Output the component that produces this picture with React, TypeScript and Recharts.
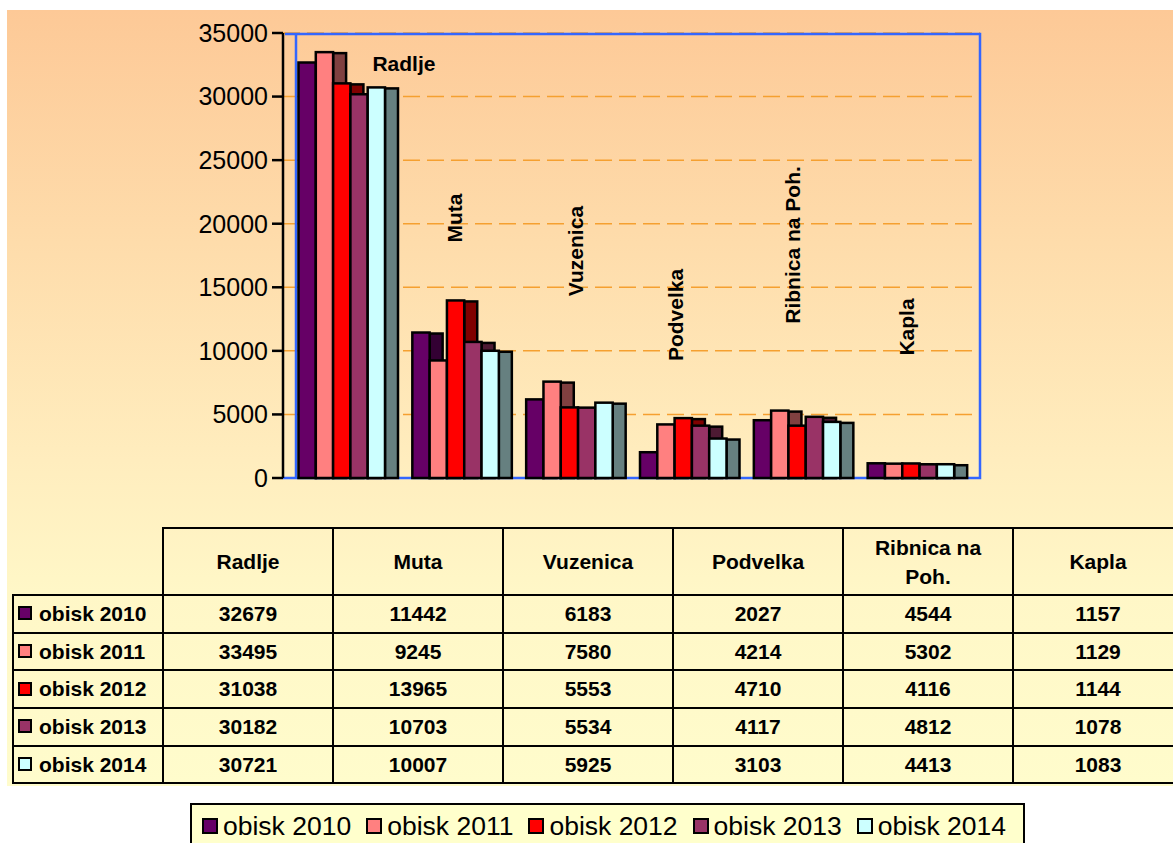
import {
  Bar,
  BarChart,
  CartesianGrid,
  Legend,
  ReferenceArea,
  ReferenceDot,
  XAxis,
  YAxis,
} from "recharts";

const CATEGORIES = ["Radlje", "Muta", "Vuzenica", "Podvelka", "Ribnica na Poh.", "Kapla"];
const OBISK_2010 = [32679, 11442, 6183, 2027, 4544, 1157];
const OBISK_2011 = [33495, 9245, 7580, 4214, 5302, 1129];
const OBISK_2012 = [31038, 13965, 5553, 4710, 4116, 1144];
const OBISK_2013 = [30182, 10703, 5534, 4117, 4812, 1078];
const OBISK_2014 = [30721, 10007, 5925, 3103, 4413, 1083];
const Y_TICKS = [0, 5000, 10000, 15000, 20000, 25000, 30000, 35000];

// Excel paleta: sprednja ploskev + temnejša stranska ploskev (3D stolpci)
const SERIES = [
  { key: "o2010", name: "obisk 2010", values: OBISK_2010, color: "#660066", side: "#330033" },
  { key: "o2011", name: "obisk 2011", values: OBISK_2011, color: "#FF8080", side: "#804040" },
  { key: "o2012", name: "obisk 2012", values: OBISK_2012, color: "#FF0000", side: "#800000" },
  { key: "o2013", name: "obisk 2013", values: OBISK_2013, color: "#993366", side: "#4D1A33" },
  { key: "o2014", name: "obisk 2014", values: OBISK_2014, color: "#CCFFFF", side: "#668080" },
];

// kje v grafu stojijo imena krajev (dx v px od sredine skupine, at v enotah osi y)
const LABEL_SPOTS = [
  { dx: 56, at: 32600, vertical: false },
  { dx: -7, at: 20450, vertical: true },
  { dx: 0, at: 17850, vertical: true },
  { dx: -14, at: 12820, vertical: true },
  { dx: -11, at: 18330, vertical: true },
  { dx: -11, at: 11880, vertical: true },
];

const data = CATEGORIES.map((name, i) => ({
  name,
  ...Object.fromEntries(SERIES.map((s) => [s.key, s.values[i]])),
}));

const FONT = '"Liberation Sans", Arial, sans-serif';
const DEPTH = 13;

function Bar3D(props: any) {
  const { x, y, width, height, fill, side } = props;
  if (!height || height <= 0) return null;
  const fx = x - DEPTH / 2;
  return (
    <g>
      <rect x={fx + width} y={y + 1} width={DEPTH} height={height - 1} fill={side} stroke="#000" strokeWidth={2.5} />
      <rect x={fx} y={y} width={width} height={height} fill={fill} stroke="#000" strokeWidth={2.5} />
    </g>
  );
}

// ReferenceArea dobi pas kategorij (z odmikom osi), zato okvir razširimo do osi
function Frame(props: any) {
  const { x, y, width, height } = props;
  const r = x + width + 6;
  const b = y + height;
  return (
    <g fill="none" stroke="#3366FF" strokeWidth={2.5}>
      <path d={`M${x - 6},${y + 1} L${r},${y + 1} L${r},${b} L${x - 8},${b}`} />
      <path d={`M${x + 5},${y + 1} L${x + 5},${b}`} />
    </g>
  );
}

function PlaceLabel({ cx, cy, text, vertical }: any) {
  return (
    <text
      x={cx}
      y={cy}
      transform={vertical ? `rotate(-90 ${cx} ${cy})` : undefined}
      textAnchor="middle"
      dominantBaseline="central"
      fontFamily={FONT}
      fontWeight={700}
      fontSize={21}
      fill="#000"
    >
      {text}
    </text>
  );
}

function LegendBox({ payload }: any) {
  return (
    <div
      style={{
        display: "flex",
        alignItems: "center",
        height: "100%",
        boxSizing: "border-box",
        paddingLeft: 10,
        background: "#FFFFCC",
        border: "2px solid #000",
        fontFamily: FONT,
        fontSize: 26.5,
        color: "#000",
      }}
    >
      {(payload ?? []).map((p: any) => (
        <span key={p.value} style={{ display: "flex", alignItems: "center", marginRight: 15 }}>
          <span
            style={{
              width: 12,
              height: 12,
              border: "2px solid #000",
              background: p.color,
              marginRight: 5,
            }}
          />
          {p.value}
        </span>
      ))}
    </div>
  );
}

function DataTable() {
  const cell: any = {
    border: "2px solid #000",
    fontWeight: 700,
    fontSize: 21,
    textAlign: "center",
    padding: 0,
  };
  return (
    <table
      style={{
        position: "absolute",
        left: 12,
        top: 527,
        borderCollapse: "collapse",
        tableLayout: "fixed",
        width: 1170,
        fontFamily: FONT,
        color: "#000",
      }}
    >
      <colgroup>
        <col style={{ width: 150 }} />
        {CATEGORIES.map((c) => (
          <col key={c} style={{ width: 170 }} />
        ))}
      </colgroup>
      <thead>
        <tr style={{ height: 67 }}>
          <th style={{ border: "none" }} />
          {CATEGORIES.map((c) => (
            <th key={c} style={{ ...cell, padding: "0 22px", lineHeight: "29px" }}>
              {c}
            </th>
          ))}
        </tr>
      </thead>
      <tbody>
        {SERIES.map((s) => (
          <tr key={s.key} style={{ height: 37.7 }}>
            <td style={{ ...cell, textAlign: "left", paddingLeft: 4, whiteSpace: "nowrap" }}>
              <span
                style={{
                  display: "inline-block",
                  width: 10,
                  height: 10,
                  border: "2px solid #000",
                  background: s.color,
                  marginRight: 7,
                  verticalAlign: "middle",
                  position: "relative",
                  top: -2,
                }}
              />
              {s.name}
            </td>
            {s.values.map((v, i) => (
              <td key={i} style={cell}>
                {v}
              </td>
            ))}
          </tr>
        ))}
      </tbody>
    </table>
  );
}

export default function App() {
  return (
    <div style={{ position: "relative", width: 1173, height: 843, overflow: "hidden", background: "#fff" }}>
      <style>{"body{margin:0}"}</style>
      <div
        style={{
          position: "absolute",
          left: 7,
          top: 10,
          width: 1166,
          height: 776,
          background:
            "linear-gradient(to bottom, #FDC997 0%, #FEDCAB 30%, #FFEDBE 58%, #FFF7C7 75%, #FFFCCC 100%)",
        }}
      />
      <DataTable />
      <div style={{ position: "absolute", left: 0, top: 0 }}>
        <BarChart
          width={1173}
          height={843}
          data={data}
          margin={{ top: 33, right: 193, bottom: 365, left: 0 }}
          barGap={0}
        >
          <CartesianGrid
            horizontal
            vertical={false}
            stroke="#F5A030"
            strokeWidth={1.5}
            strokeDasharray="17 7"
          />
          <ReferenceArea y1={0} y2={35000} ifOverflow="visible" shape={(p: any) => <Frame {...p} />} />
          <XAxis dataKey="name" hide padding={{ left: 8, right: 6 }} />
          <YAxis
            width={283}
            domain={[0, 35000]}
            ticks={Y_TICKS}
            interval={0}
            axisLine={{ stroke: "#000", strokeWidth: 2.5 }}
            tickLine={{ stroke: "#000", strokeWidth: 2.5 }}
            tickSize={11}
            tickMargin={4}
            tick={{ fill: "#000", fontSize: 25, fontFamily: FONT }}
          />
          {SERIES.map((s) => (
            <Bar
              key={s.key}
              dataKey={s.key}
              name={s.name}
              fill={s.color}
              barSize={17.3}
              isAnimationActive={false}
              shape={(p: any) => <Bar3D {...p} side={s.side} />}
            />
          ))}
          {CATEGORIES.map((c, i) => (
            <ReferenceDot
              key={c}
              x={c}
              y={LABEL_SPOTS[i].at}
              r={0}
              ifOverflow="visible"
              shape={(p: any) => (
                <PlaceLabel
                  cx={p.cx + LABEL_SPOTS[i].dx}
                  cy={p.cy}
                  text={c}
                  vertical={LABEL_SPOTS[i].vertical}
                />
              )}
            />
          ))}
          <Legend
            layout="vertical"
            align="center"
            verticalAlign="middle"
            width={835}
            height={46}
            wrapperStyle={{ left: 190, top: 803, width: 835, height: 46 }}
            content={(p: any) => <LegendBox {...p} />}
          />
        </BarChart>
      </div>
    </div>
  );
}
